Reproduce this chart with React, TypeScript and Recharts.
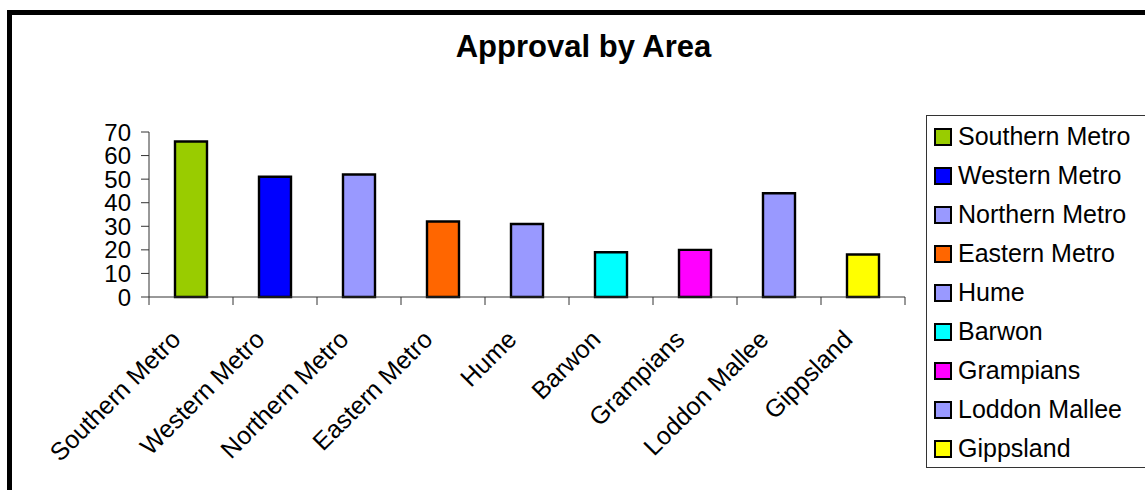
import React from "react";
import { Bar, BarChart, Cell, XAxis, YAxis } from "recharts";

const areas = [
  "Southern Metro",
  "Western Metro",
  "Northern Metro",
  "Eastern Metro",
  "Hume",
  "Barwon",
  "Grampians",
  "Loddon Mallee",
  "Gippsland",
];
const approvals = [66, 51, 52, 32, 31, 19, 20, 44, 18];
const areaColors = [
  "#99CC00",
  "#0000FF",
  "#9999FF",
  "#FF6600",
  "#9999FF",
  "#00FFFF",
  "#FF00FF",
  "#9999FF",
  "#FFFF00",
];
const yTicks = [0, 10, 20, 30, 40, 50, 60, 70];

const data = areas.map((area, i) => ({ area, value: approvals[i] }));

const FONT = '"Liberation Sans", Arial, sans-serif';
const AXIS = "#333";

// category ticks sit on the band edges, labels are slanted under the centre
function AreaTick(props: any) {
  const { x, y, payload, index, width } = props;
  const half = payload.offset ?? width / areas.length / 2;
  const lx = x - 9;
  const ly = y + 44;
  return (
    <g>
      <line x1={x - half} x2={x - half} y1={y} y2={y + 8} stroke={AXIS} />
      {index === areas.length - 1 && (
        <line x1={x + half} x2={x + half} y1={y} y2={y + 8} stroke={AXIS} />
      )}
      <text
        x={lx}
        y={ly}
        transform={`rotate(-45, ${lx}, ${ly})`}
        textAnchor="end"
        fontSize={25}
        fontFamily={FONT}
        fill="#000"
      >
        {payload.value}
      </text>
    </g>
  );
}

export default function App() {
  return (
    <div
      style={{
        position: "fixed",
        left: 0,
        top: 0,
        width: 1145,
        height: 490,
        overflow: "hidden",
        background: "#fff",
        fontFamily: FONT,
      }}
    >
      <div
        style={{
          position: "absolute",
          left: 7,
          top: 10,
          width: 1160,
          height: 520,
          border: "5px solid #000",
          boxSizing: "border-box",
        }}
      />
      <div
        style={{
          position: "absolute",
          top: 31,
          left: 583.5,
          transform: "translateX(-50%)",
          fontSize: 31,
          fontWeight: "bold",
          lineHeight: "31px",
          whiteSpace: "nowrap",
        }}
      >
        Approval by Area
      </div>
      <div style={{ position: "absolute", left: 0, top: 0 }}>
        <BarChart
          width={1145}
          height={490}
          data={data}
          margin={{ top: 132, right: 240, bottom: 43, left: 89 }}
        >
          <XAxis
            dataKey="area"
            interval={0}
            height={150}
            tickLine={false}
            tickSize={0}
            tickMargin={0}
            axisLine={{ stroke: AXIS }}
            tick={<AreaTick />}
          />
          <YAxis
            width={60}
            domain={[0, 70]}
            ticks={yTicks}
            interval={0}
            tickSize={8}
            tickMargin={10}
            axisLine={{ stroke: AXIS }}
            tickLine={{ stroke: AXIS }}
            tick={{ fontSize: 24, fill: "#000", fontFamily: FONT }}
          />
          <Bar
            dataKey="value"
            barSize={32}
            stroke="#000"
            strokeWidth={2.4}
            isAnimationActive={false}
          >
            {data.map((d, i) => (
              <Cell key={d.area} fill={areaColors[i]} />
            ))}
          </Bar>
        </BarChart>
      </div>
      <div
        style={{
          position: "absolute",
          left: 926,
          top: 115,
          width: 240,
          height: 353,
          border: "1px solid #333",
          boxSizing: "border-box",
          padding: "1px 0 0 7px",
        }}
      >
        {areas.map((area, i) => (
          <div
            key={area}
            style={{
              height: 39,
              display: "flex",
              alignItems: "center",
              fontSize: 25,
              whiteSpace: "nowrap",
            }}
          >
            <span
              style={{
                width: 18,
                height: 18,
                boxSizing: "border-box",
                border: "2px solid #000",
                background: areaColors[i],
                marginRight: 6,
                flex: "none",
              }}
            />
            {area}
          </div>
        ))}
      </div>
    </div>
  );
}
